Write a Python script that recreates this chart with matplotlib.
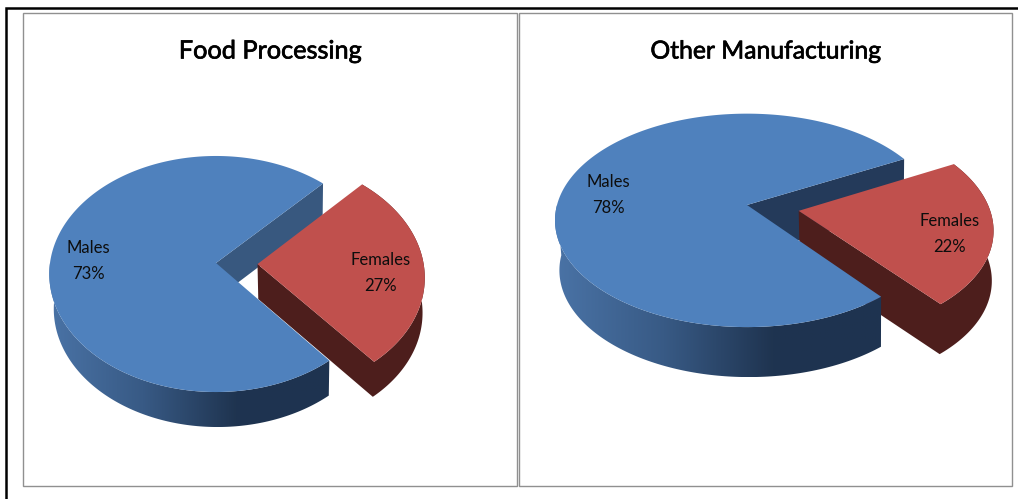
import numpy as np
import matplotlib
matplotlib.use("Agg")
import matplotlib.pyplot as plt
import matplotlib.patheffects as pe
from matplotlib.colors import LinearSegmentedColormap
from matplotlib.patches import Polygon, Rectangle

# Chart values
titles = ["Food Processing", "Other Manufacturing"]
labels = ["Males", "Females"]
food_shares = [73, 27]
other_shares = [78, 22]

plt.rcParams['font.family'] = ['Lato', 'DejaVu Sans']

BLUE_TOP = "#4f81bd"
BLUE_BACK = ["#38587f", "#243a5a"]
RED_TOP = "#c0504d"
RED_SIDE = "#4d1e1c"
side_cmap = LinearSegmentedColormap.from_list("side", ["#4a73a6", "#385a85", "#1f3450", "#1e3350"])


def project(x, y, pie):
    """Unit disk -> pixels, with a bit of perspective (far side is smaller)."""
    d = 1 + pie["k"] * y
    return pie["a"] * x / d, pie["s"] * y / d


def top_xy(x, y, pie):
    X, Y = project(x, y, pie)
    return pie["cx"] + X, pie["cy"] - Y


def bottom_xy(x, y, pie):
    px, py = top_xy(x, y, pie)
    return pie["x0"] + pie["fx"] * (px - pie["x0"]), py + pie["depth"]


def side_band(xs, ys, pie):
    tx, ty = top_xy(xs, ys, pie)
    bx, by = bottom_xy(xs, ys, pie)
    return np.column_stack([np.concatenate([tx, bx[::-1]]), np.concatenate([ty, by[::-1]])])


def draw_pie(ax, shares, pie):
    male, female = shares
    start = pie["start"]
    end = start + male * 3.6

    # males
    t = np.radians(np.linspace(start, end, 300))
    mx, my = np.cos(t), np.sin(t)

    # back wall of the cut
    wall = side_band(np.array([0, mx[0]]), np.array([0, my[0]]), pie)
    ax.add_patch(Polygon(wall, closed=True, fc=pie["back"], ec="none", zorder=2))

    # females, pulled out along the middle of the slice
    mid = np.radians(start - female * 1.8)
    ox, oy = pie["explode"] * np.cos(mid), pie["explode"] * np.sin(mid)
    t2 = np.radians(np.linspace(start - female * 3.6, start, 120))
    fx = np.concatenate([[ox], ox + np.cos(t2)])
    fy = np.concatenate([[oy], oy + np.sin(t2)])

    ax.add_patch(Polygon(side_band(fx, fy, pie), closed=True, fc=RED_SIDE, ec="none", zorder=3))
    ftx, fty = top_xy(fx, fy, pie)
    ax.add_patch(Polygon(np.column_stack([ftx, fty]), closed=True, fc=RED_TOP, ec="none", zorder=4))

    # front rim of the males, gradient clipped to the band
    front = np.degrees(t) > 180
    band = side_band(mx[front], my[front], pie)
    clip = Polygon(band, closed=True, transform=ax.transData, fc="none", ec="none")
    ax.add_patch(clip)
    x_min, x_max = band[:, 0].min(), band[:, 0].max()
    y_min, y_max = band[:, 1].min(), band[:, 1].max()
    im = ax.imshow(np.linspace(0, 1, 256).reshape(1, -1), cmap=side_cmap, aspect="auto",
                   extent=(x_min, x_max, y_max, y_min), zorder=5)
    im.set_clip_path(clip)

    px, py = top_xy(np.concatenate([[0], mx]), np.concatenate([[0], my]), pie)
    ax.add_patch(Polygon(np.column_stack([px, py]), closed=True, fc=BLUE_TOP, ec="none", zorder=6))


fig = plt.figure(figsize=(10.18, 4.99), dpi=100, facecolor="white")
ax = fig.add_axes([0, 0, 1, 1])
ax.axis("off")

# outer table border
ax.plot([6, 6, 1018], [499, 8, 8], color="black", lw=1.8, solid_joinstyle="miter", zorder=1)

# chart frames
for x0, x1 in [(23, 517), (519, 1012)]:
    ax.add_patch(Rectangle((x0, 13), x1 - x0, 473, fc="white", ec="#909090", lw=1.0, zorder=1))

left_pie = dict(cx=216, cy=263, a=166, s=117, k=0.0932, depth=35, fx=0.982, x0=300,
                start=46.5, explode=0.25, back=BLUE_BACK[0])
right_pie = dict(cx=747, cy=205, a=190, s=104.5, k=0.144, depth=50, fx=0.986, x0=870,
                 start=28, explode=0.2756, back=BLUE_BACK[1])

draw_pie(ax, food_shares, left_pie)
draw_pie(ax, other_shares, right_pie)

ax.set_xlim(0, 1018)
ax.set_ylim(499, 0)

# titles
stroke = [pe.withStroke(linewidth=0.5, foreground="black")]
ax.text(270, 51, titles[0], ha="center", va="center", fontsize=18.2, color="black",
        path_effects=stroke, zorder=8)
ax.text(766, 51, titles[1], ha="center", va="center", fontsize=17.8, color="black",
        path_effects=stroke, zorder=8)

# slice labels
label_font = dict(ha="center", va="center", fontsize=12, color="#0d0d0d", linespacing=1.7, zorder=8)
ax.text(88, 261, f"{labels[0]}\n{food_shares[0]}%", **label_font)
ax.text(381, 273, f"{labels[1]}\n{food_shares[1]}%", **label_font)
ax.text(608, 195, f"{labels[0]}\n{other_shares[0]}%", **label_font)
ax.text(950, 234, f"{labels[1]}\n{other_shares[1]}%", **label_font)

fig.savefig("out.png", dpi=100)
